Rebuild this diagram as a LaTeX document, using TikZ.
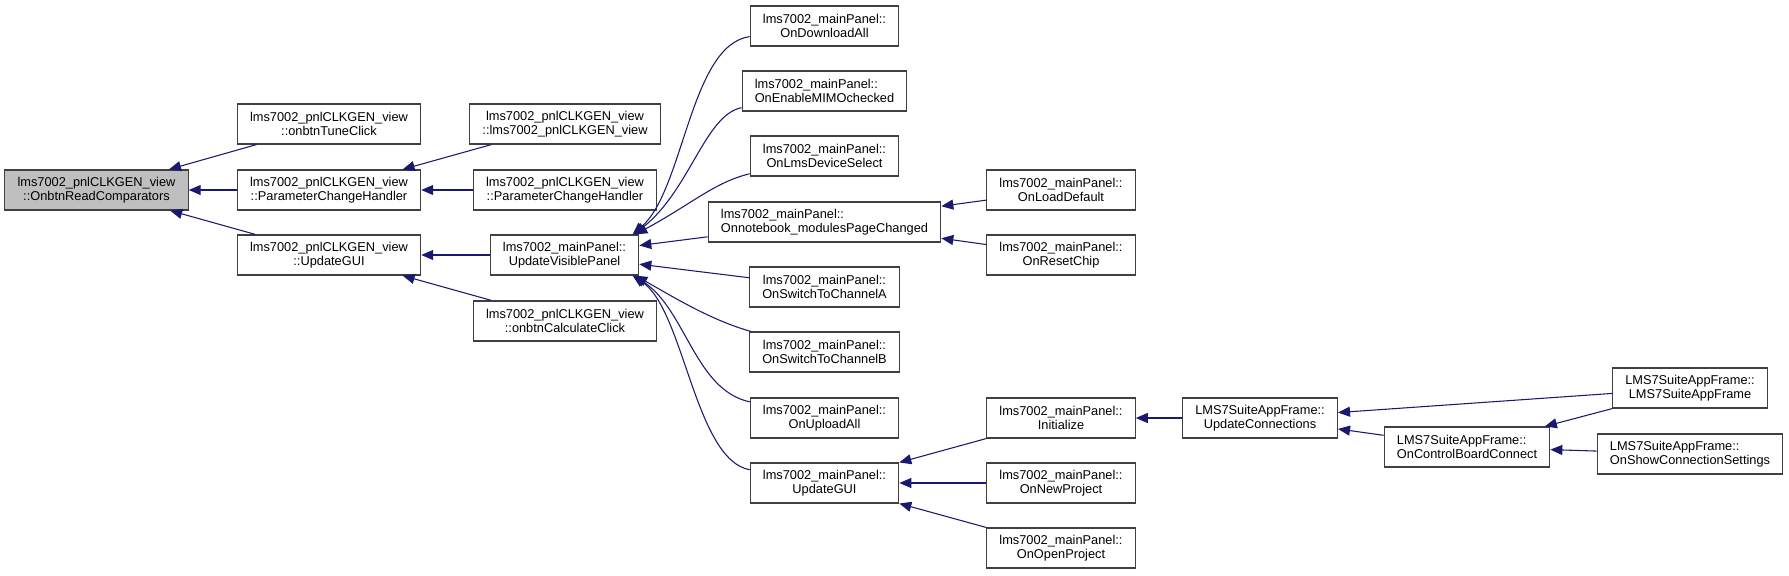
\documentclass[tikz,border=0pt]{standalone}
\usepackage{fontspec}
\setmainfont{Liberation Sans}
\usetikzlibrary{arrows.meta}
\definecolor{edgeblue}{HTML}{191970}
\definecolor{boxline}{HTML}{404040}
\definecolor{rootgray}{HTML}{BFBFBF}
\newcommand{\clk}{lms7002\_pnlCLKGEN\_view}
\newcommand{\mpanel}{lms7002\_mainPanel::}
\newcommand{\suite}{LMS7SuiteAppFrame::}

\begin{document}
\begin{tikzpicture}[x=.75pt,y=-.75pt,font=\fontsize{9.6}{10.5}\selectfont,
    fn/.style={draw=boxline,line width=.9pt,fill=white,align=center,
      minimum height=30pt,inner xsep=9.5pt,inner ysep=2pt},
    fnl/.style={fn,align=left},
    call/.style={draw=edgeblue,line width=.8pt,-{Triangle[length=9pt,width=7.5pt]}}]
  \useasboundingbox (0,0) rectangle (1789,575);

  % pnlCLKGEN side
  \node[fn,fill=rootgray] (root) at (96.5,190) {\clk\\::OnbtnReadComparators};
  \node[fn] (tune) at (329,124) {\clk\\::onbtnTuneClick};
  \node[fn] (pch) at (329,190) {\clk\\::ParameterChangeHandler};
  \node[fn] (gui) at (329,255) {\clk\\::UpdateGUI};
  \node[fn] (ctor) at (565,124) {\clk\\::\clk};
  \node[fn] (pchb) at (565,190) {\clk\\::ParameterChangeHandler};
  \node[fn] (uvp) at (564.5,255) {\mpanel\\UpdateVisiblePanel};
  \node[fn] (calc) at (565,321) {\clk\\::onbtnCalculateClick};

  % mainPanel column
  \node[fn] (dl) at (824.5,26) {\mpanel\\OnDownloadAll};
  \node[fnl] (mimo) at (824.5,91) {\mpanel\\OnEnableMIMOchecked};
  \node[fn] (lmsdev) at (824.5,156) {\mpanel\\OnLmsDeviceSelect};
  \node[fnl] (nb) at (824.5,222) {\mpanel\\Onnotebook\_modulesPageChanged};
  \node[fn] (cha) at (824.5,287) {\mpanel\\OnSwitchToChannelA};
  \node[fn] (chb) at (824.5,352) {\mpanel\\OnSwitchToChannelB};
  \node[fn] (ul) at (824.5,418) {\mpanel\\OnUploadAll};
  \node[fn] (mgui) at (824.5,483) {\mpanel\\UpdateGUI};

  \node[fn] (load) at (1061,190) {\mpanel\\OnLoadDefault};
  \node[fn] (reset) at (1061,255) {\mpanel\\OnResetChip};
  \node[fn] (init) at (1061,418) {\mpanel\\Initialize};
  \node[fn] (newp) at (1061,483) {\mpanel\\OnNewProject};
  \node[fn] (openp) at (1061,548) {\mpanel\\OnOpenProject};

  % app frame
  \node[fn] (upc) at (1260,418) {\suite\\UpdateConnections};
  \node[fnl] (ocbc) at (1467,447) {\suite\\OnControlBoardConnect};
  \node[fn] (frame) at (1690,388) {\suite\\LMS7SuiteAppFrame};
  \node[fnl] (showc) at (1690,454) {\suite\\OnShowConnectionSettings};

  % calls
  \draw[call] (tune) -- (root);
  \draw[call] (pch) -- (root);
  \draw[call] (gui) -- (root);
  \draw[call] (ctor) -- (pch);
  \draw[call] (pchb) -- (pch);
  \draw[call] (uvp) -- (gui);
  \draw[call] (calc) -- (gui);

  \draw[call] (dl) .. controls (690,45) and (684,190) .. ([xshift=-5pt]uvp.north east);
  \draw[call] (mimo) .. controls (705,115) and (690,190) .. ([xshift=-4pt]uvp.north east);
  \draw[call] (lmsdev) .. controls (715,182) and (690,205) .. ([xshift=-3pt]uvp.north east);
  \draw[call] (nb) -- (uvp);
  \draw[call] (cha) -- (uvp);
  \draw[call] (chb) .. controls (710,320) and (670,295) .. ([xshift=-3pt]uvp.south east);
  \draw[call] (ul) .. controls (695,390) and (686,310) .. ([xshift=-4pt]uvp.south east);
  \draw[call] (mgui) .. controls (695,460) and (684,310) .. ([xshift=-5pt]uvp.south east);

  \draw[call] (load) -- (nb);
  \draw[call] (reset) -- (nb);
  \draw[call] (init) -- (mgui);
  \draw[call] (newp) -- (mgui);
  \draw[call] (openp) -- (mgui);

  \draw[call] (upc) -- (init);
  \draw[call] (frame) -- (upc);
  \draw[call] (ocbc) -- (upc);
  \draw[call] (frame) -- (ocbc);
  \draw[call] (showc) -- (ocbc);
\end{tikzpicture}
\end{document}
